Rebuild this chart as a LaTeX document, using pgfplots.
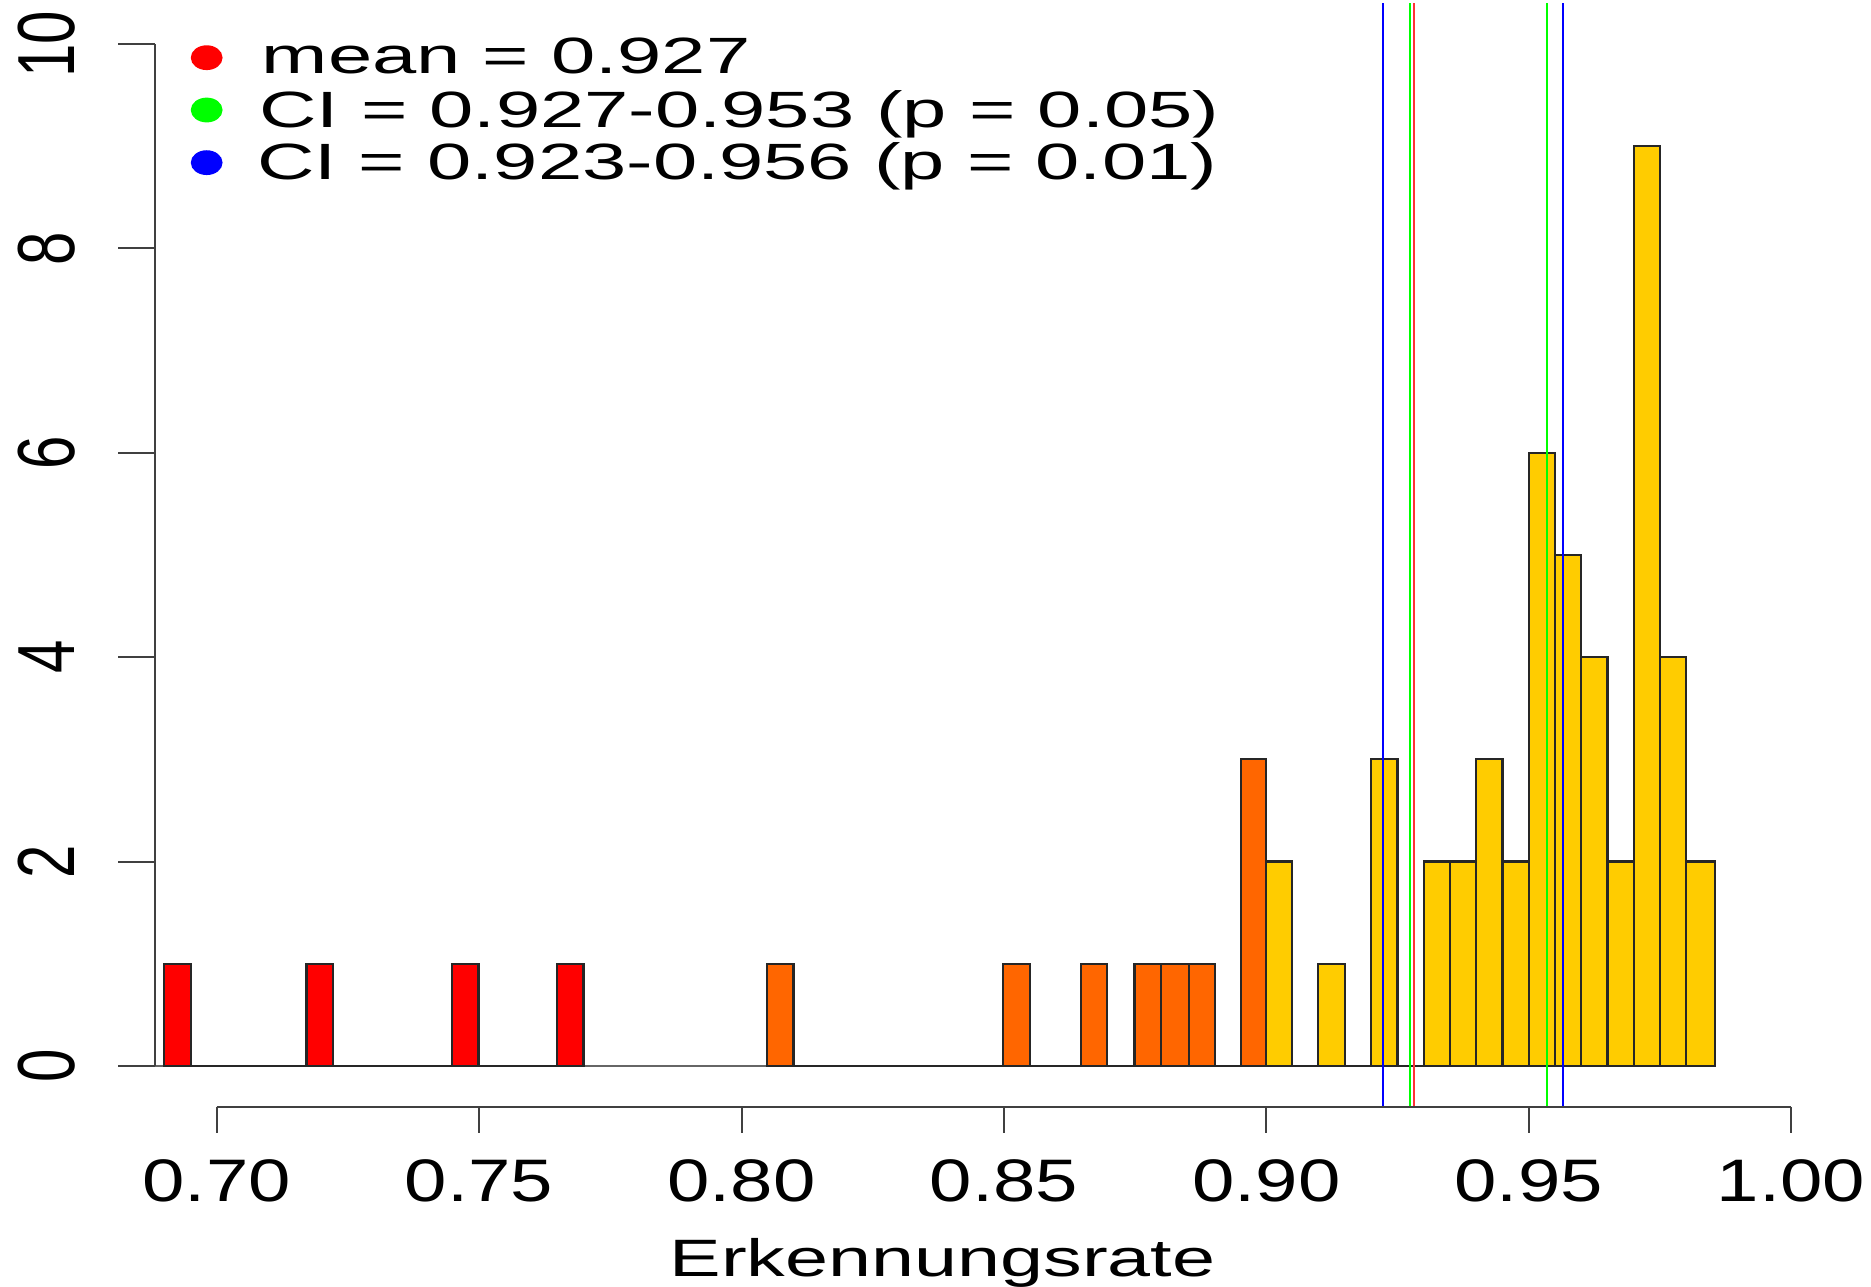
\documentclass[border=0pt]{standalone}
\usepackage{fontspec}
\setmainfont{Liberation Sans}
\usepackage{graphicx}
\usepackage{pgfplots}
\pgfplotsset{compat=1.18}

\definecolor{histred}{HTML}{FF0000}
\definecolor{historange}{HTML}{FF6600}
\definecolor{histyellow}{HTML}{FFCC00}
\definecolor{cigreen}{HTML}{00FF00}
\definecolor{ciblue}{HTML}{0000FF}

% the source image is stretched sideways, so the text is too
\newcommand{\xticklab}[1]{{\fontsize{15}{18}\selectfont\scalebox{1.27}[1]{#1}}}
\newcommand{\yticklab}[1]{{\fontsize{15}{18}\selectfont\scalebox{1}[1.35]{#1}}}
\newcommand{\leglab}[1]{{\fontsize{12.75}{15}\selectfont\scalebox{1.56}[1]{#1}}}
\newcommand{\xlab}[1]{{\fontsize{13.15}{16}\selectfont\scalebox{1.47}[1]{#1}}}

\begin{document}
\begin{tikzpicture}
\begin{axis}[
    width=467.75pt, height=321.75pt, scale only axis,
    xmin=0.658708, xmax=1.015225,
    ymin=-2.1624, ymax=10.4305,
    hide axis, clip=false,
]
\path (rel axis cs:0,0) rectangle (rel axis cs:1,1);

% empty bins along the bottom
\addplot[black!60, line width=0.5pt] coordinates {(0.6812,0) (0.9855,0)};

% histogram, one series per colour group
\addplot[ybar interval, fill=histred, draw=black!85, line width=0.55pt] coordinates {
  (0.6899,1) (0.6951,0) (0.7171,1) (0.7221,0) (0.7449,1) (0.7499,0) (0.7649,1) (0.7699,0)
};
\addplot[ybar interval, fill=historange, draw=black!85, line width=0.55pt] coordinates {
  (0.8049,1) (0.8099,0) (0.8499,1) (0.8549,0) (0.8647,1) (0.8697,0)
  (0.8749,1) (0.8799,1) (0.8852,1) (0.8902,0) (0.8952,3) (0.9000,0)
};
\addplot[ybar interval, fill=histyellow, draw=black!85, line width=0.55pt] coordinates {
  (0.9000,2) (0.9049,0) (0.9099,1) (0.9150,0) (0.9200,3) (0.9250,0)
  (0.9300,2) (0.9350,2) (0.9400,3) (0.9450,2) (0.9500,6) (0.9550,5)
  (0.9600,4) (0.9650,2) (0.9700,9) (0.9750,4) (0.9800,2) (0.9855,0)
};

% mean and confidence limits
\addplot[ciblue, line width=0.5pt] coordinates {(0.9222,-0.4) (0.9222,10.4)};
\addplot[ciblue, line width=0.5pt] coordinates {(0.9565,-0.4) (0.9565,10.4)};
\addplot[cigreen, line width=0.5pt] coordinates {(0.9274,-0.4) (0.9274,10.4)};
\addplot[cigreen, line width=0.5pt] coordinates {(0.9535,-0.4) (0.9535,10.4)};
\addplot[histred!80, line width=0.5pt] coordinates {(0.9281,-0.4) (0.9281,10.4)};

% legend
\addplot[only marks, color=histred, mark=*, mark size=2.9pt, mark options={xscale=1.3, fill=histred, draw=histred}] coordinates {(0.69809,9.866)};
\addplot[only marks, color=cigreen, mark=*, mark size=2.9pt, mark options={xscale=1.3, fill=cigreen, draw=cigreen}] coordinates {(0.69809,9.354)};
\addplot[only marks, color=ciblue, mark=*, mark size=2.9pt, mark options={xscale=1.3, fill=ciblue, draw=ciblue}] coordinates {(0.69809,8.839)};
\node[anchor=base west, inner sep=0] at (axis cs:0.70844,9.714) {\leglab{mean = 0.927}};
\node[anchor=base west, inner sep=0] at (axis cs:0.70800,9.186) {\leglab{CI = 0.927-0.953 (p = 0.05)}};
\node[anchor=base west, inner sep=0] at (axis cs:0.70760,8.677) {\leglab{CI = 0.923-0.956 (p = 0.01)}};

% R-style axes
\draw[black!75, line width=0.5pt] (axis cs:0.70,-0.4) -- (axis cs:1.00,-0.4);
\pgfplotsinvokeforeach{0.70,0.75,0.80,0.85,0.90,0.95,1.00}{
  \draw[black!75, line width=0.5pt] (axis cs:#1,-0.4) -- (axis cs:#1,-0.656);
  \node[anchor=base, inner sep=0] at (axis cs:#1,-1.328) {\xticklab{#1}};
}
\draw[black!75, line width=0.5pt] (axis cs:0.68824,0) -- (axis cs:0.68824,10);
\pgfplotsinvokeforeach{0,2,4,6,8,10}{
  \draw[black!75, line width=0.5pt] (axis cs:0.68824,#1) -- (axis cs:0.68119,#1);
  \node[rotate=90, inner sep=0] at (axis cs:0.6675,#1) {\yticklab{#1}};
}
\node[anchor=base, inner sep=0] at (axis cs:0.8383,-2.055) {\xlab{Erkennungsrate}};
\end{axis}
\end{tikzpicture}
\end{document}
